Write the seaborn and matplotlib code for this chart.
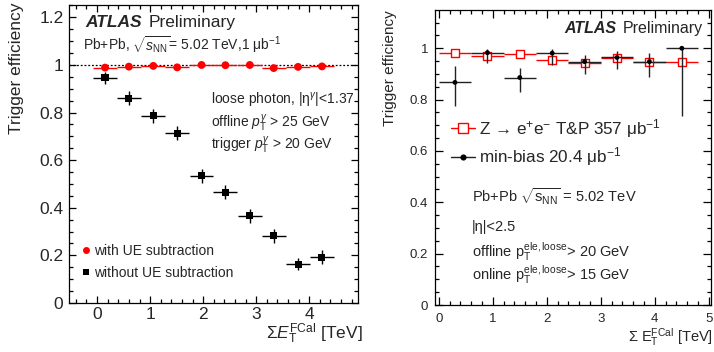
import numpy as np
import matplotlib
matplotlib.use('Agg')
import matplotlib.pyplot as plt
import seaborn as sns
from matplotlib.lines import Line2D
from matplotlib.ticker import MultipleLocator, FuncFormatter

# photon trigger efficiency vs FCal ET (left panel)
fcal_pho = [0.15, 0.60, 1.06, 1.51, 1.97, 2.42, 2.88, 3.33, 3.79, 4.24]
eff_ue_sub = [0.989, 0.993, 0.996, 0.990, 1.000, 0.999, 1.000, 0.987, 0.992, 0.994]
err_ue_sub = [0.004, 0.003, 0.003, 0.003, 0.003, 0.003, 0.003, 0.004, 0.004, 0.004]
eff_no_sub = [0.947, 0.860, 0.786, 0.713, 0.535, 0.465, 0.366, 0.282, 0.163, 0.192]
err_no_sub = [0.025, 0.030, 0.030, 0.030, 0.030, 0.030, 0.030, 0.030, 0.025, 0.030]
pho_bin_half = 0.225

# electron trigger efficiency vs FCal ET (right panel)
fcal_ele = [0.3, 0.9, 1.5, 2.1, 2.7, 3.3, 3.9, 4.5]
eff_zee = [0.983, 0.968, 0.978, 0.955, 0.942, 0.963, 0.945, 0.947]
err_zee = [0.004, 0.005, 0.005, 0.006, 0.006, 0.006, 0.007, 0.008]
eff_mb = [0.867, 0.983, 0.886, 0.981, 0.948, 0.964, 0.948, 1.000]
err_mb_lo = [0.093, 0.040, 0.058, 0.045, 0.048, 0.044, 0.060, 0.265]
err_mb_hi = [0.062, 0.015, 0.039, 0.015, 0.026, 0.026, 0.035, 0.000]
ele_bin_half = 0.3

sns.set_style('ticks')
plt.rcParams['font.family'] = ['Liberation Sans', 'DejaVu Sans']
plt.rcParams['mathtext.fontset'] = 'custom'
plt.rcParams['mathtext.rm'] = 'Liberation Sans'
plt.rcParams['mathtext.it'] = 'Liberation Sans:italic'
plt.rcParams['mathtext.bf'] = 'Liberation Sans:bold'

fig = plt.figure(figsize=(7.14, 3.52), dpi=100)
ax1 = fig.add_axes([0.0966, 0.1392, 0.4048, 0.8466])
ax2 = fig.add_axes([0.6092, 0.1335, 0.3866, 0.8381])

fmt = FuncFormatter(lambda v, p: f'{v:g}')


def root_style(ax, lsize, major, minor, pad_x, pad_y):
    for s in ax.spines.values():
        s.set_linewidth(0.9)
        s.set_color('black')
    ax.tick_params(which='both', direction='in', top=True, right=True,
                   width=0.9, color='black', labelsize=lsize)
    ax.tick_params(which='major', length=major)
    ax.tick_params(which='minor', length=minor)
    ax.tick_params(axis='x', pad=pad_x)
    ax.tick_params(axis='y', pad=pad_y)
    ax.xaxis.set_minor_locator(MultipleLocator(0.2))
    ax.yaxis.set_minor_locator(MultipleLocator(0.05))
    ax.yaxis.set_major_locator(MultipleLocator(0.2))
    ax.xaxis.set_major_locator(MultipleLocator(1))
    ax.yaxis.set_major_formatter(fmt)


# ---------- left panel ----------
ax1.axhline(1.0, color='black', ls=(0, (1.5, 1.5)), lw=0.9, zorder=1)
ax1.errorbar(fcal_pho, eff_ue_sub, xerr=pho_bin_half, yerr=err_ue_sub,
             fmt='none', ecolor='red', elinewidth=1.0, zorder=2)
sns.scatterplot(x=fcal_pho, y=eff_ue_sub, ax=ax1, color='red', marker='o',
                s=32, edgecolor='none', zorder=3)
ax1.errorbar(fcal_pho, eff_no_sub, xerr=pho_bin_half, yerr=err_no_sub,
             fmt='none', ecolor='black', elinewidth=1.0, zorder=2)
sns.scatterplot(x=fcal_pho, y=eff_no_sub, ax=ax1, color='black', marker='s',
                s=26, edgecolor='none', zorder=3)

ax1.set_xlim(-0.53, 4.92)
ax1.set_ylim(0, 1.252)
root_style(ax1, 12.5, 5, 2.6, 3, 4)

ax1.set_ylabel('Trigger efficiency', fontsize=12.5, loc='top')
ax1.yaxis.set_label_coords(-0.155, 1.01)
ax1.set_xlabel(r'Σ$E_{\mathrm{T}}^{\mathrm{FCal}}$ [TeV]', fontsize=12.5, loc='right')
ax1.xaxis.set_label_coords(1.015, -0.062)

ax1.text(-0.23, 1.16, 'ATLAS', fontsize=12.5, fontweight='bold', fontstyle='italic')
ax1.text(0.97, 1.16, 'Preliminary', fontsize=12.5)
ax1.text(-0.265, 1.063, r'Pb+Pb, $\sqrt{s_{\mathrm{NN}}}$= 5.02 TeV,1 μb$^{\mathrm{-1}}$', fontsize=10)
ax1.text(2.15, 0.832, r'loose photon, |η$^{γ}$|<1.37', fontsize=10)
ax1.text(2.15, 0.737, r'offline $p_{\mathrm{T}}^{γ}$ > 25 GeV', fontsize=10)
ax1.text(2.15, 0.646, r'trigger $p_{\mathrm{T}}^{γ}$ > 20 GeV', fontsize=10)

h1 = [Line2D([], [], ls='none', marker='o', color='red', markersize=5, markeredgewidth=0),
      Line2D([], [], ls='none', marker='s', color='black', markersize=4.8, markeredgewidth=0)]
ax1.legend(h1, ['with UE subtraction', 'without UE subtraction'], loc='lower left',
           bbox_to_anchor=(0.025, 0.058), frameon=False, fontsize=10,
           handlelength=0.6, handletextpad=0.3, labelspacing=0.6, borderaxespad=0)

# ---------- right panel ----------
ax2.errorbar(fcal_ele, eff_zee, xerr=ele_bin_half, yerr=err_zee,
             fmt='none', ecolor='red', elinewidth=1.0, zorder=2)
sns.scatterplot(x=fcal_ele, y=eff_zee, ax=ax2, marker='s', s=40,
                facecolor='white', edgecolor='red', linewidth=1.0, zorder=3)
ax2.errorbar(fcal_ele, eff_mb, xerr=ele_bin_half, yerr=[err_mb_lo, err_mb_hi],
             fmt='none', ecolor='#222222', elinewidth=1.0, zorder=4)
sns.scatterplot(x=fcal_ele, y=eff_mb, ax=ax2, color='black', marker='o',
                s=12, edgecolor='none', zorder=5)

ax2.set_xlim(-0.07, 5.04)
ax2.set_ylim(0, 1.149)
root_style(ax2, 9.5, 6, 3, 5.5, 5)

ax2.set_ylabel('Trigger efficiency', fontsize=11, loc='top')
ax2.yaxis.set_label_coords(-0.138, 1.0)
ax2.set_xlabel(r'Σ E$_{\mathrm{T}}^{\mathrm{FCal}}$ [TeV]', fontsize=10.5, loc='right')
ax2.xaxis.set_label_coords(1.007, -0.072)

ax2.text(2.33, 1.06, 'ATLAS', fontsize=11.5, fontweight='bold', fontstyle='italic')
ax2.text(3.41, 1.06, 'Preliminary', fontsize=11.5)
ax2.text(0.61, 0.40, r'Pb+Pb $\sqrt{\mathrm{s}_{\mathrm{NN}}}$ = 5.02 TeV', fontsize=10.5)
ax2.text(0.61, 0.288, r'|η|<2.5', fontsize=10.5)
ax2.text(0.61, 0.187, r'offline p$_{\mathrm{T}}^{\mathrm{ele,loose}}$> 20 GeV', fontsize=10.5)
ax2.text(0.61, 0.097, r'online p$_{\mathrm{T}}^{\mathrm{ele,loose}}$> 15 GeV', fontsize=10.5)

h2 = [Line2D([], [], color='red', lw=1.0, marker='s', markersize=6.5,
             markerfacecolor='white', markeredgecolor='red'),
      Line2D([], [], color='#222222', lw=1.0, marker='o', markersize=3.4,
             markerfacecolor='black', markeredgecolor='black')]
ax2.legend(h2, ['Z → e$^{+}$e$^{-}$ T&P 357 μb$^{\mathrm{-1}}$',
                'min-bias 20.4 μb$^{\mathrm{-1}}$'],
           loc='lower left', bbox_to_anchor=(0.035, 0.44), frameon=False,
           fontsize=12.3, handlelength=1.35, handletextpad=0.25,
           labelspacing=0.33, borderaxespad=0)

fig.savefig('out.png', dpi=100)
